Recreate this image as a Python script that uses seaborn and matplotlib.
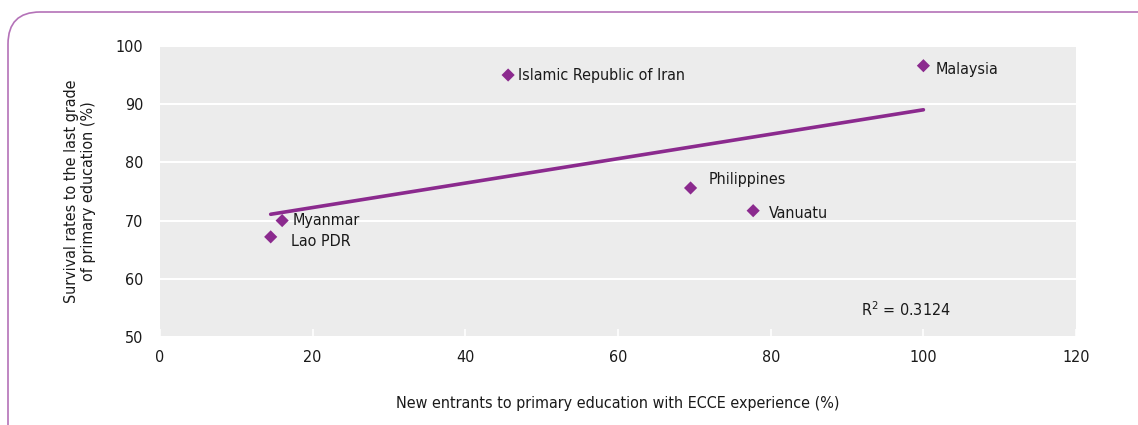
import numpy as np
import pandas as pd
import matplotlib
matplotlib.use("Agg")
import matplotlib.pyplot as plt
from matplotlib.patches import FancyBboxPatch
from matplotlib.transforms import IdentityTransform
import seaborn as sns

# Data
countries = ["Malaysia", "Islamic Republic of Iran", "Philippines", "Vanuatu", "Myanmar", "Lao PDR"]
ecce = [100.0, 45.6, 69.5, 77.7, 16.0, 14.5]
survival = [96.6, 95.0, 75.6, 71.7, 70.0, 67.2]
label_offsets = [(12, -4), (10, 0), (18, 8), (16, -3), (10, 0), (20, -5)]

df = pd.DataFrame({"country": countries, "ecce": ecce, "survival": survival})

purple = "#8b2a8e"

sns.set_style("darkgrid", {"axes.facecolor": "#ececec", "grid.color": "white"})
plt.rcParams["font.family"] = ["DejaVu Sans"]
plt.rcParams["font.stretch"] = "condensed"

fig = plt.figure(figsize=(11.38, 4.25), dpi=100)
ax = fig.add_axes([0.1406, 0.207, 0.805, 0.685])

# Trend line (linear fit) and points
sns.regplot(data=df, x="ecce", y="survival", scatter=False, ci=None, truncate=True,
            color=purple, line_kws={"linewidth": 2.6}, ax=ax)
sns.scatterplot(data=df, x="ecce", y="survival", marker="D", s=45, color=purple,
                edgecolor="none", ax=ax, zorder=3)

for name, x, y, off in zip(countries, ecce, survival, label_offsets):
    ax.annotate(name, (x, y), xytext=off, textcoords="offset pixels",
                ha="left", va="center", fontsize=11.5, color="#1a1a1a")

ax.text(0.814, 0.095, r"R$^2$ = 0.3124", transform=ax.transAxes, ha="center",
        va="center", fontsize=11.5, color="#1a1a1a")

ax.set_xlim(0, 120)
ax.set_ylim(50, 100)
ax.set_xticks(range(0, 121, 20))
ax.set_yticks(range(50, 101, 10))
ax.grid(axis="x", visible=False)
ax.grid(axis="y", color="white", linewidth=1.5)
for s in ax.spines.values():
    s.set_visible(False)
ax.tick_params(axis="x", direction="in", length=6, width=1.2, color="white",
               labelsize=11.5, pad=9, bottom=True, labelcolor="#1a1a1a")
ax.tick_params(axis="y", length=0, labelsize=11.5, pad=12, labelcolor="#1a1a1a")

ax.set_xlabel("New entrants to primary education with ECCE experience (%)", fontsize=11.5,
              labelpad=23, color="#1a1a1a")
ax.set_ylabel("Survival rates to the last grade\nof primary education (%)", fontsize=11.5,
              labelpad=14, color="#1a1a1a")

# Rounded frame around the figure (pixel coordinates)
frame = FancyBboxPatch((8, -60), 1300, 425 - 12 + 60,
                       boxstyle="round,pad=0,rounding_size=32",
                       transform=IdentityTransform(), fill=False, edgecolor="#b472b8",
                       linewidth=1.2)
fig.patches.append(frame)

fig.savefig("out.png", dpi=100)
